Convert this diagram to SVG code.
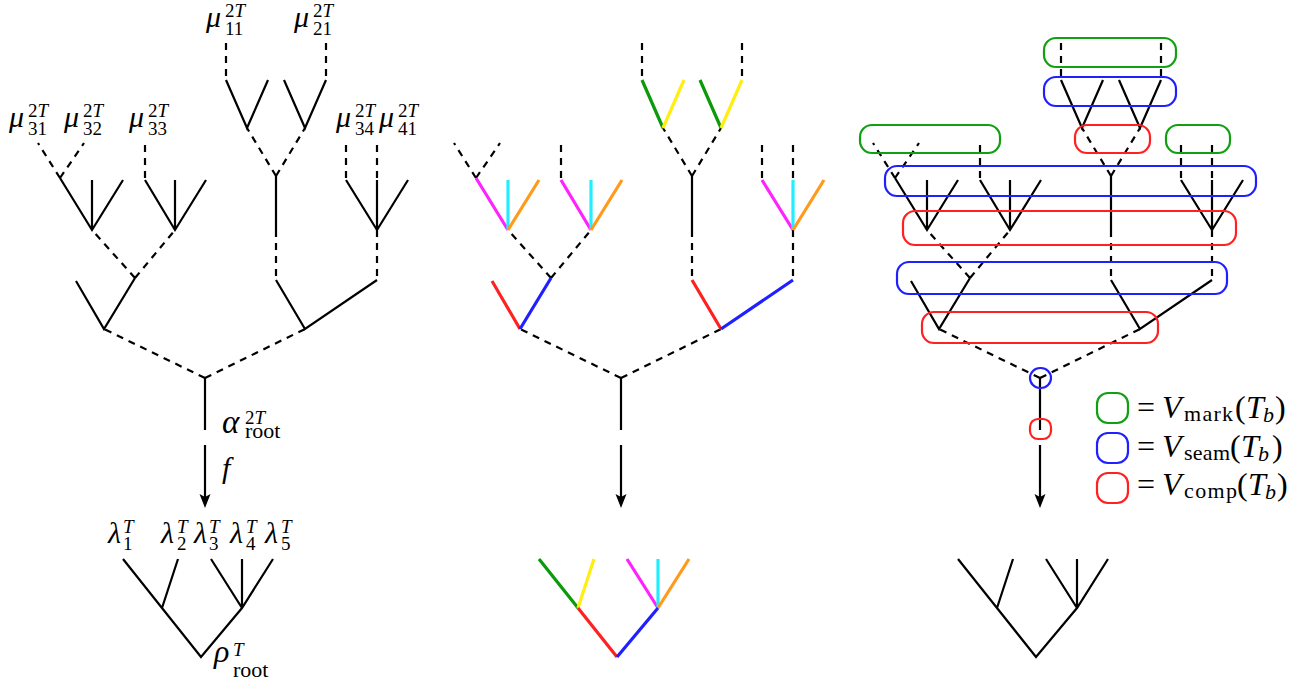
<svg xmlns="http://www.w3.org/2000/svg" width="1307" height="685" viewBox="0 0 1307 685">
<defs>
<style>
.k{fill:none;stroke:#000;stroke-width:2.2;stroke-linejoin:miter}
.d{stroke-dasharray:7 6}
.c{fill:none;stroke-width:3.2}
.gr{stroke:#0a9a0a}.ye{stroke:#ffee10}.ma{stroke:#ff22ff}.cy{stroke:#22eeff}.or{stroke:#ff9a1a}.rd{stroke:#ff2020}.bl{stroke:#2020ff}
.bx{fill:none;stroke-width:2.2}
.bg{stroke:#11a011}.bb{stroke:#2020ff}.br{stroke:#ff2020}
.m{font-family:"Liberation Serif","DejaVu Serif",serif;font-size:30px;font-style:italic;fill:#000}
.s{font-size:19px;font-style:normal}
.r{font-size:22px;font-style:normal}
.i{font-style:italic}
.u{font-style:normal}
</style>
<marker id="arr" viewBox="0 0 14 12" markerUnits="userSpaceOnUse" markerWidth="14" markerHeight="12" refX="6" refY="6" orient="auto">
<path d="M0,0.5 L14,6 L0,11.5 L3,6 Z" fill="#000"/>
</marker>
</defs>
<rect width="1307" height="685" fill="#fff"/>

<!-- left panel -->
<g id="panel-left">
<g id="left-upper">
<path class="k" d="M226,80 L247,128 L268,80 M284,80 L305,128 L326,80 M276,176 L276,230 M276,280 L305,329 L377,280 M346,180 L377,230 L408,180 M377,180 L377,230 M60,178 L92,230 L123,180 M92,180 L92,230 M145,180 L175,230 L206,180 M175,180 L175,230 M76,281 L104,329 L135,278 M205,378 L205,430"/>
<path class="k d" d="M226,43 L226,80 M326,43 L326,80 M276,176 L247,128 M276,176 L305,128 M276,230 L276,280 M377,230 L377,280 M346,145 L346,180 M377,145 L377,180 M60,178 L38,143 M60,178 L84,143 M145,145 L145,180 M135,278 L92,230 M135,278 L175,230 M205,378 L104,329 M205,378 L305,329"/>
</g>
<g id="left-map"><path class="k" d="M205,445 L205,500" marker-end="url(#arr)"/></g>
<g id="left-lower">
<path class="k" d="M123,559 L162,608 L201,657 L242,608 L273,559 M178,559 L162,608 M211,559 L242,608 M242,559 L242,608"/>
</g>
<g id="labels-left">
<text class="m" x="206" y="27">μ<tspan class="s" x="225" y="17">2<tspan class="i">T</tspan></tspan><tspan class="s" x="225" y="35">11</tspan></text>
<text class="m" x="294" y="27">μ<tspan class="s" x="313" y="17">2<tspan class="i">T</tspan></tspan><tspan class="s" x="313" y="35">21</tspan></text>
<text class="m" x="9" y="127">μ<tspan class="s" x="28" y="117">2<tspan class="i">T</tspan></tspan><tspan class="s" x="28" y="135">31</tspan></text>
<text class="m" x="64" y="127">μ<tspan class="s" x="83" y="117">2<tspan class="i">T</tspan></tspan><tspan class="s" x="83" y="135">32</tspan></text>
<text class="m" x="129" y="127">μ<tspan class="s" x="148" y="117">2<tspan class="i">T</tspan></tspan><tspan class="s" x="148" y="135">33</tspan></text>
<text class="m" x="336" y="127">μ<tspan class="s" x="355" y="117">2<tspan class="i">T</tspan></tspan><tspan class="s" x="355" y="135">34</tspan></text>
<text class="m" x="379" y="127">μ<tspan class="s" x="398" y="117">2<tspan class="i">T</tspan></tspan><tspan class="s" x="398" y="135">41</tspan></text>
<text class="m" style="font-size:33px" x="222" y="433">α<tspan class="s" x="245" y="424">2<tspan class="i">T</tspan></tspan><tspan class="r" x="245" y="438">root</tspan></text>
<text class="m" x="222" y="478">f</text>
<text class="m" x="108" y="543">λ<tspan class="s i" x="123" y="533">T</tspan><tspan class="s" x="123" y="550">1</tspan></text>
<text class="m" x="161" y="543">λ<tspan class="s i" x="177" y="533">T</tspan><tspan class="s" x="177" y="550">2</tspan></text>
<text class="m" x="194" y="543">λ<tspan class="s i" x="209" y="533">T</tspan><tspan class="s" x="209" y="550">3</tspan></text>
<text class="m" x="230" y="543">λ<tspan class="s i" x="246" y="533">T</tspan><tspan class="s" x="246" y="550">4</tspan></text>
<text class="m" x="265" y="543">λ<tspan class="s i" x="281" y="533">T</tspan><tspan class="s" x="281" y="550">5</tspan></text>
<text class="m" style="font-size:32px" x="214" y="662">ρ<tspan class="s i" x="233" y="656">T</tspan><tspan class="r" x="233" y="677">root</tspan></text>
</g>
</g>

<!-- middle panel -->
<g id="panel-middle" transform="translate(416,0)">
<g id="mid-upper">
<path class="k" d="M276,176 L276,230 M205,378 L205,430"/>
<path class="k d" d="M226,43 L226,80 M326,43 L326,80 M276,176 L247,128 M276,176 L305,128 M276,230 L276,280 M377,230 L377,280 M346,145 L346,180 M377,145 L377,180 M60,178 L38,143 M60,178 L84,143 M145,145 L145,180 M135,278 L92,230 M135,278 L175,230 M205,378 L104,329 M205,378 L305,329"/>
<path class="c gr" d="M226,80 L247,128 M284,80 L305,128"/>
<path class="c ye" d="M247,128 L268,80 M305,128 L326,80"/>
<path class="c ma" d="M60,178 L92,230 M145,180 L175,230 M346,180 L377,230"/>
<path class="c cy" d="M92,180 L92,230 M175,180 L175,230 M377,180 L377,230"/>
<path class="c or" d="M123,180 L92,230 M206,180 L175,230 M408,180 L377,230"/>
<path class="c rd" d="M76,281 L104,329 M276,280 L305,329"/>
<path class="c bl" d="M104,329 L135,278 M305,329 L377,280"/>
</g>
<g id="mid-map"><path class="k" d="M205,445 L205,500" marker-end="url(#arr)"/></g>
<g id="mid-lower">
<path class="c gr" d="M123,559 L162,608"/>
<path class="c ye" d="M178,559 L162,608"/>
<path class="c rd" d="M162,608 L201,657"/>
<path class="c ma" d="M211,559 L242,608"/>
<path class="c cy" d="M242,559 L242,608"/>
<path class="c or" d="M273,559 L242,608"/>
<path class="c bl" d="M242,608 L201,657"/>
</g>
</g>

<!-- right panel -->
<g id="panel-right" transform="translate(835,0)">
<g id="right-upper">
<path class="k" d="M226,80 L247,128 L268,80 M284,80 L305,128 L326,80 M276,176 L276,230 M276,280 L305,329 L377,280 M346,180 L377,230 L408,180 M377,180 L377,230 M60,178 L92,230 L123,180 M92,180 L92,230 M145,180 L175,230 L206,180 M175,180 L175,230 M76,281 L104,329 L135,278 M205,378 L205,430"/>
<path class="k d" d="M226,43 L226,80 M326,43 L326,80 M276,176 L247,128 M276,176 L305,128 M276,230 L276,280 M377,230 L377,280 M346,145 L346,180 M377,145 L377,180 M60,178 L38,143 M60,178 L84,143 M145,145 L145,180 M135,278 L92,230 M135,278 L175,230 M205,378 L104,329 M205,378 L305,329"/>
</g>
<g id="right-map"><path class="k" d="M205,445 L205,500" marker-end="url(#arr)"/></g>
<g id="right-lower">
<path class="k" d="M123,559 L162,608 L201,657 L242,608 L273,559 M178,559 L162,608 M211,559 L242,608 M242,559 L242,608"/>
</g>
</g>

<g id="vertex-sets">
<rect class="bx bg" x="1044" y="38" width="132" height="29" rx="12"/>
<rect class="bx bb" x="1044" y="77" width="132" height="29" rx="12"/>
<rect class="bx br" x="1075" y="125" width="75" height="28" rx="12"/>
<rect class="bx bg" x="860" y="125" width="140" height="28" rx="12"/>
<rect class="bx bg" x="1166" y="125" width="64" height="28" rx="12"/>
<rect class="bx bb" x="885" y="166" width="371" height="30" rx="12"/>
<rect class="bx br" x="903" y="211" width="333" height="34" rx="12"/>
<rect class="bx bb" x="897" y="262" width="330" height="32" rx="12"/>
<rect class="bx br" x="922" y="312" width="236" height="31" rx="12"/>
<rect class="bx bb" x="1030" y="368" width="21" height="20" rx="10"/>
<rect class="bx br" x="1030" y="419" width="21" height="20" rx="8"/>
</g>

<g id="legend">
<rect class="bx bg" x="1097" y="393" width="31" height="30" rx="11"/>
<rect class="bx bb" x="1097" y="433" width="31" height="30" rx="11"/>
<rect class="bx br" x="1097" y="473" width="31" height="30" rx="11"/>
<text class="m" style="font-size:32px"><tspan class="u" x="1137" y="418">=</tspan><tspan x="1162" y="418">V</tspan><tspan class="r" x="1184" y="421" textLength="49">mark</tspan><tspan class="u" x="1235" y="418">(</tspan><tspan x="1246" y="418">T</tspan><tspan style="font-size:22px" x="1263" y="422">b</tspan><tspan class="u" x="1275" y="418">)</tspan></text>
<text class="m" style="font-size:32px"><tspan class="u" x="1137" y="457">=</tspan><tspan x="1162" y="457">V</tspan><tspan class="r" x="1184" y="460" textLength="46">seam</tspan><tspan class="u" x="1230" y="457">(</tspan><tspan x="1241" y="457">T</tspan><tspan style="font-size:22px" x="1258" y="461">b</tspan><tspan class="u" x="1272" y="457">)</tspan></text>
<text class="m" style="font-size:32px"><tspan class="u" x="1137" y="495">=</tspan><tspan x="1162" y="495">V</tspan><tspan class="r" x="1184" y="498" textLength="53">comp</tspan><tspan class="u" x="1237" y="495">(</tspan><tspan x="1248" y="495">T</tspan><tspan style="font-size:22px" x="1265" y="499">b</tspan><tspan class="u" x="1277" y="495">)</tspan></text>
</g>
</svg>
